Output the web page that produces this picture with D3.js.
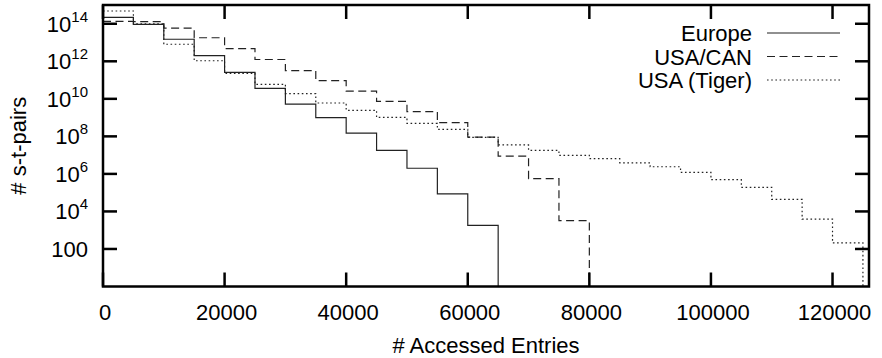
<!DOCTYPE html>
<html>
<head>
<meta charset="utf-8">
<script src="https://cdn.jsdelivr.net/npm/d3@7"></script>
<style>
  body { margin: 0; background: #fff; }
  text { font-family: "Liberation Sans", Arial, sans-serif; fill: #000; }
</style>
</head>
<body>
<div id="chart-container"></div>
<script>
// histogram of accessed entries, bins of 5000
const binWidth = 5000;
const seriesNames = ["Europe", "USA/CAN", "USA (Tiger)"];
const europe = [2.2e14, 9.3e13, 1.5e13, 2.0e12, 2.6e11, 3.6e10, 5.2e9, 1.0e9, 1.5e8, 1.8e7, 2.0e6, 8.7e4, 1.8e3];
const usaCan = [1.35e14, 1.3e14, 5.8e13, 1.8e13, 4.7e12, 1.25e12, 3.2e11, 9.3e10, 2.6e10, 7.4e9, 2.1e9, 5.4e8, 9.1e7, 8.9e6, 5.6e5, 3.2e3];
const usaTiger = [4.8e14, 9.8e13, 8.1e12, 1.07e12, 2.3e11, 5.9e10, 1.9e10, 6.0e9, 2.45e9, 1.02e9, 4.9e8, 2.35e8, 8.9e7, 3.5e7, 1.78e7, 9.8e6, 6.5e6, 3.9e6, 2.4e6, 1.2e6, 4.9e5, 1.9e5, 4.4e4, 3.9e3, 2.1e2];
const xTicks = [0, 20000, 40000, 60000, 80000, 100000, 120000];
const yTicks = [1e2, 1e4, 1e6, 1e8, 1e10, 1e12, 1e14];

const width = 882, height = 358;
const margin = { top: 5, right: 13, bottom: 71.5, left: 103 };

const svg = d3.select("#chart-container")
    .append("svg")
    .attr("width", width)
    .attr("height", height);

const xScale = d3.scaleLinear()
    .domain([0, 126000])
    .range([margin.left, width - margin.right]);

const yScale = d3.scaleLog()
    .domain([1, 1e15])
    .range([height - margin.bottom, margin.top]);

const x0 = xScale.range()[0], x1 = xScale.range()[1];
const yBottom = yScale.range()[0], yTop = yScale.range()[1];

svg.append("clipPath").attr("id", "clip")
    .append("rect")
    .attr("x", x0).attr("y", yTop)
    .attr("width", x1 - x0).attr("height", yBottom - yTop);

// step lines
const styles = [
    { dash: null },
    { dash: "8,4.5" },
    { dash: "1.6,2.6" }
];
const allSeries = [europe, usaCan, usaTiger];

const line = d3.line().curve(d3.curveStepAfter);

allSeries.forEach((vals, k) => {
    const pts = vals.map((v, i) => [xScale(i * binWidth), yScale(v)]);
    const end = vals.length * binWidth;
    pts.push([xScale(end), yScale(vals[vals.length - 1])]);
    pts.push([xScale(end), yBottom + 5]);
    svg.append("path")
        .attr("clip-path", "url(#clip)")
        .attr("d", line(pts))
        .attr("fill", "none")
        .attr("stroke", "#222")
        .attr("stroke-width", 1.2)
        .attr("stroke-dasharray", styles[k].dash);
});

// ticks (inward, mirrored)
const tickLen = 14;
const axes = svg.append("g").attr("stroke", "#000").attr("stroke-width", 2.5);
xTicks.forEach(t => {
    const x = xScale(t);
    axes.append("line").attr("x1", x).attr("x2", x).attr("y1", yBottom).attr("y2", yBottom - tickLen);
    axes.append("line").attr("x1", x).attr("x2", x).attr("y1", yTop).attr("y2", yTop + tickLen);
});
yTicks.forEach(t => {
    const y = yScale(t);
    axes.append("line").attr("x1", x0).attr("x2", x0 + tickLen).attr("y1", y).attr("y2", y);
    axes.append("line").attr("x1", x1).attr("x2", x1 - tickLen).attr("y1", y).attr("y2", y);
});

svg.append("rect")
    .attr("x", x0).attr("y", yTop)
    .attr("width", x1 - x0).attr("height", yBottom - yTop)
    .attr("fill", "none")
    .attr("stroke", "#000")
    .attr("stroke-width", 2.5);

// tick labels
svg.selectAll(".xlabel")
    .data(xTicks)
    .enter()
    .append("text")
    .attr("class", "xlabel")
    .attr("x", d => xScale(d) + 2)
    .attr("y", yBottom + 33)
    .attr("text-anchor", "middle")
    .attr("font-size", 22)
    .text(d => d);

yTicks.forEach(t => {
    const exp = Math.round(Math.log10(t));
    const txt = svg.append("text")
        .attr("x", 88)
        .attr("y", yScale(t) + 8)
        .attr("text-anchor", "end")
        .attr("font-size", 22);
    if (exp <= 2) {
        txt.text(t);
    } else {
        txt.append("tspan").text("10");
        txt.append("tspan").attr("font-size", 15).attr("dy", -10).text(exp);
    }
});

// axis titles
svg.append("text")
    .attr("x", (x0 + x1) / 2)
    .attr("y", 353)
    .attr("text-anchor", "middle")
    .attr("font-size", 22)
    .text("# Accessed Entries");

svg.append("text")
    .attr("transform", `translate(26,${(yTop + yBottom) / 2}) rotate(-90)`)
    .attr("text-anchor", "middle")
    .attr("font-size", 22)
    .text("# s-t-pairs");

// legend
seriesNames.forEach((name, k) => {
    const y = 33 + k * 23.5;
    svg.append("text")
        .attr("x", 752)
        .attr("y", y + 8)
        .attr("text-anchor", "end")
        .attr("font-size", 22)
        .text(name);
    svg.append("line")
        .attr("x1", 767).attr("x2", 840)
        .attr("y1", y).attr("y2", y)
        .attr("stroke", "#222")
        .attr("stroke-width", 1.2)
        .attr("stroke-dasharray", styles[k].dash);
});
</script>
</body>
</html>
